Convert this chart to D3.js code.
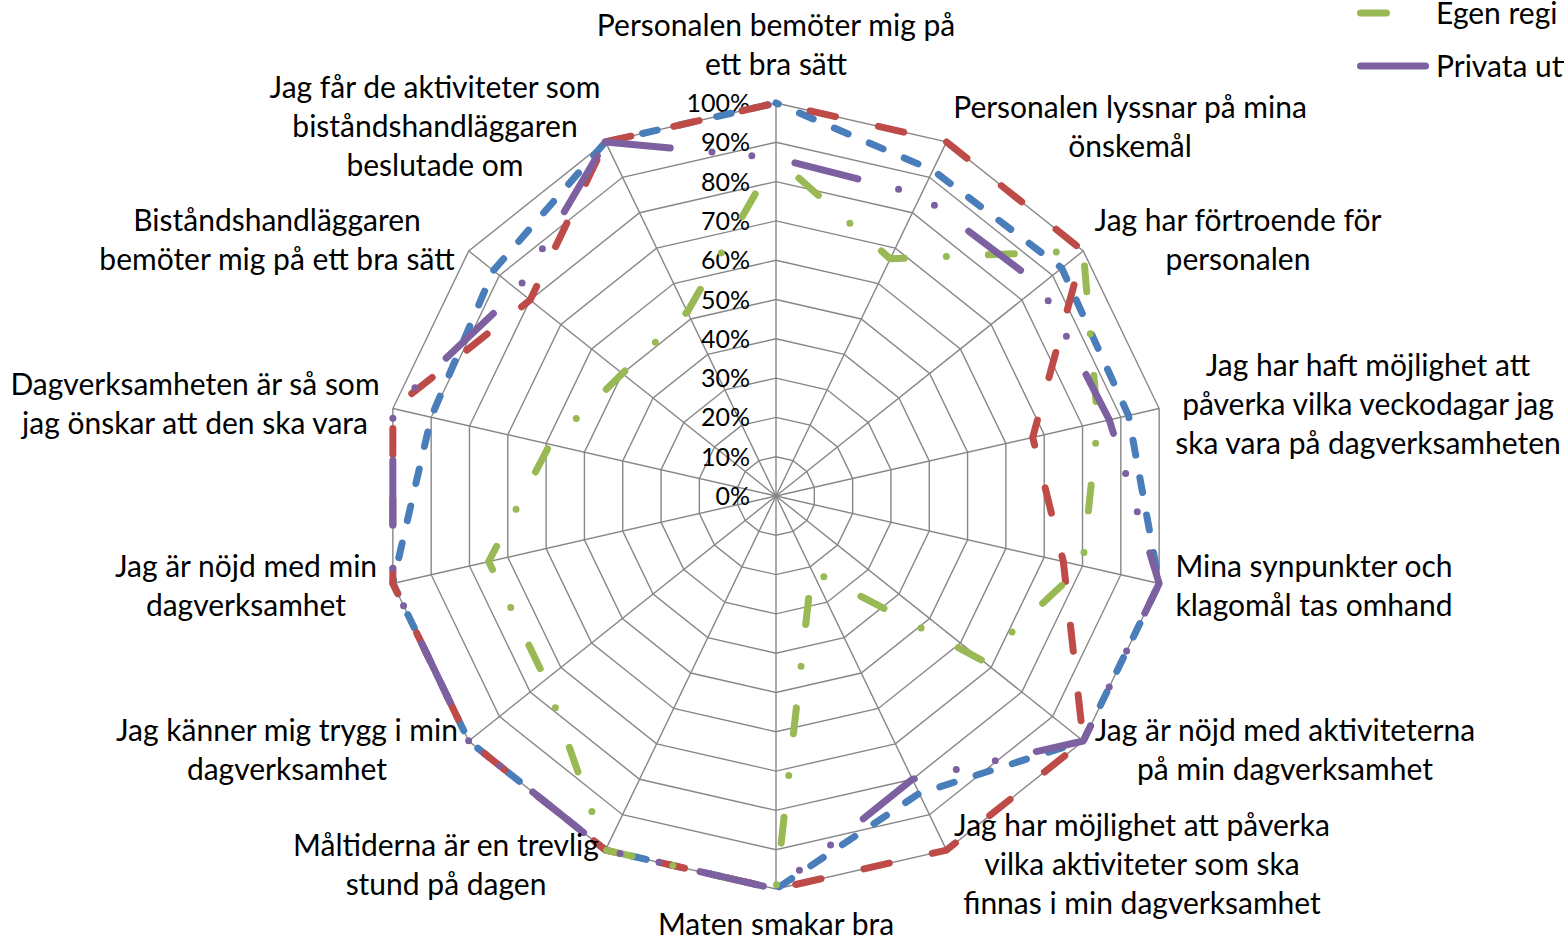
<!DOCTYPE html>
<html>
<head>
<meta charset="utf-8">
<script src="https://cdn.jsdelivr.net/npm/d3@7"></script>
<style>
    html, body { margin: 0; padding: 0; background: #fff; overflow: hidden; }
    svg { display: block; }
    text { font-family: Lato, "Open Sans", sans-serif; fill: #000; }
</style>
</head>
<body>
<svg id="chart"></svg>
<script>
// categories, clockwise from the top
const categories = [
    "Personalen bemöter mig på\nett bra sätt",
    "Personalen lyssnar på mina\nönskemål",
    "Jag har förtroende för\npersonalen",
    "Jag har haft möjlighet att\npåverka vilka veckodagar jag\nska vara på dagverksamheten",
    "Mina synpunkter och\nklagomål tas omhand",
    "Jag är nöjd med aktiviteterna\npå min dagverksamhet",
    "Jag har möjlighet att påverka\nvilka aktiviteter som ska\nfinnas i min dagverksamhet",
    "Maten smakar bra",
    "Måltiderna är en trevlig\nstund på dagen",
    "Jag känner mig trygg i min\ndagverksamhet",
    "Jag är nöjd med min\ndagverksamhet",
    "Dagverksamheten är så som\njag önskar att den ska vara",
    "Biståndshandläggaren\nbemöter mig på ett bra sätt",
    "Jag får de aktiviteter som\nbiståndshandläggaren\nbeslutade om"
];

const tickLabels = ["0%", "10%", "20%", "30%", "40%", "50%", "60%", "70%", "80%", "90%", "100%"];

const valuesBlue   = [1.00, 0.92, 0.93, 0.92, 1.00, 1.00, 0.84, 1.00, 1.00, 1.00, 1.00, 0.90, 0.92, 1.00];
const valuesRed    = [1.00, 1.00, 1.00, 0.67, 0.75, 1.00, 1.00, 1.00, 1.00, 1.00, 1.00, 1.00, 0.80, 1.00];
const valuesGreen  = [0.86, 0.67, 1.00, 0.84, 0.80, 0.67, 0.21, 1.00, 1.00, 0.75, 0.75, 0.59, 0.50, 0.52];
const valuesPurple = [0.86, 0.85, 0.86, 0.87, 1.00, 1.00, 0.80, 1.00, 1.00, 1.00, 1.00, 1.00, 0.84, 1.00];

const legendNames = ["Egen regi 2013", "Privata utförare 2013"];

// layout / style
const W = 1564, H = 938;
const CX = 776, CY = 496, R = 393;
const LINE_H = 39;
const labelPos = [[776, 25], [1130, 107], [1238, 220], [1368, 365], [1314, 566], [1285, 730],
                  [1142, 825], [776, 924], [446, 845], [287, 730], [246, 566], [195, 384],
                  [277, 220], [435, 87]];

const SERIES_STYLE = [
    { values: valuesBlue,   color: "#4A7EBB", dash: "15 23", offset: 12.5 },
    { values: valuesRed,    color: "#BE4B48", dash: "26 44", offset: 35 },
    { values: valuesGreen,  color: "#98B954", dash: "26 42 0 42", offset: 79.5 },
    { values: valuesPurple, color: "#7D60A0", dash: "65 42 0 40 0 43", offset: 170.5 }
];

function styleLine(sel, s) {
    return sel.attr("fill", "none")
        .attr("stroke", s.color)
        .attr("stroke-width", 7)
        .attr("stroke-linecap", "round")
        .attr("stroke-linejoin", "round")
        .attr("stroke-dasharray", s.dash);
}

function drawChart() {
    let svg = d3.select("#chart").attr("width", W).attr("height", H);
    svg.selectAll("*").remove();

    const n = categories.length;
    const angle = i => i * 2 * Math.PI / n;
    const scaleR = d3.scaleLinear().domain([0, 1]).range([0, R]);

    let g = svg.append("g").attr("transform", `translate(${CX}, ${CY})`);

    const ring = d3.lineRadial()
        .angle((d, i) => angle(i))
        .radius(d => scaleR(d))
        .curve(d3.curveLinearClosed);

    const levels = d3.range(1, 11).map(v => v / 10);
    g.selectAll(".ring")
        .data(levels)
        .enter()
        .append("path")
        .attr("d", lv => ring(categories.map(() => lv)))
        .attr("fill", "none")
        .attr("stroke", "#878787")
        .attr("stroke-width", 1.4);

    g.selectAll(".spoke")
        .data(categories)
        .enter()
        .append("line")
        .attr("x1", 0).attr("y1", 0)
        .attr("x2", (d, i) => scaleR(1) * Math.sin(angle(i)))
        .attr("y2", (d, i) => -scaleR(1) * Math.cos(angle(i)))
        .attr("stroke", "#878787")
        .attr("stroke-width", 1.4);

    g.selectAll(".tick")
        .data(tickLabels)
        .enter()
        .append("text")
        .attr("x", -26)
        .attr("y", (d, i) => -scaleR(i / 10))
        .attr("dy", "0.36em")
        .attr("text-anchor", "end")
        .style("font-size", "25px")
        .text(d => d);

    // open polyline first..last, then the closing segment with a fresh dash pattern
    const openLine = d3.lineRadial()
        .angle(d => angle(d[0]))
        .radius(d => scaleR(d[1]));

    SERIES_STYLE.forEach(s => {
        let pts = s.values.map((v, i) => [i, v]);
        styleLine(g.append("path"), s)
            .attr("d", openLine(pts))
            .attr("stroke-dashoffset", s.offset);
        styleLine(g.append("path"), s)
            .attr("d", openLine([pts[n - 1], [n, s.values[0]]]));
    });

    categories.forEach((c, i) => {
        let t = svg.append("text")
            .attr("text-anchor", "middle")
            .style("font-size", "30px");
        c.split("\n").forEach((line, j) => {
            t.append("tspan")
                .attr("x", labelPos[i][0])
                .attr("y", labelPos[i][1] + j * LINE_H)
                .attr("dy", "0.36em")
                .text(line);
        });
    });

    // legend: only the last two entries fall inside the picture
    const legendSeries = [SERIES_STYLE[2], SERIES_STYLE[3]];
    legendSeries.forEach((s, i) => {
        const y = 13 + i * 53;
        styleLine(svg.append("line"), s)
            .attr("x1", 1360.5).attr("x2", 1427)
            .attr("y1", y).attr("y2", y);
        svg.append("text")
            .attr("x", 1436)
            .attr("y", y)
            .attr("dy", "0.36em")
            .style("font-size", "30px")
            .text(legendNames[i]);
    });
}

drawChart();
</script>
</body>
</html>
